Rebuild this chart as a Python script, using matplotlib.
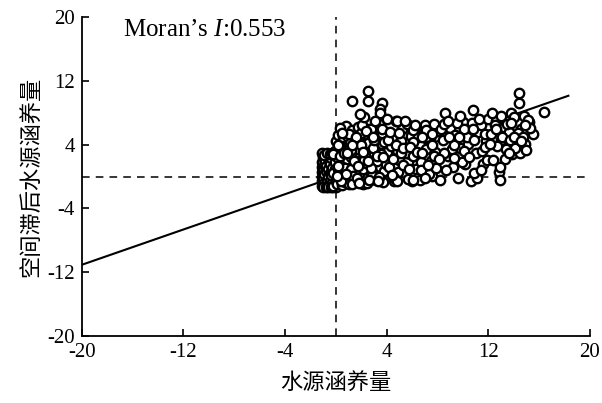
import matplotlib
matplotlib.use("Agg")
import matplotlib.pyplot as plt

plt.rcParams['mathtext.fontset'] = 'custom'
plt.rcParams['mathtext.rm'] = 'Liberation Serif'
plt.rcParams['mathtext.it'] = 'Liberation Serif:italic'
plt.rcParams['axes.unicode_minus'] = False

# values (approximate)
block_x = [-1.1, -1.1, -1.1, -1.1, -1.1, -1.1, -1.05, -1.0, -1.0, -1.0, -0.95, -0.9, -0.9, -0.85, -0.8,
           -0.8, -0.75, -0.7, -0.7, -0.65, -0.6, -0.6, -0.55, -0.5, -0.5, -0.45, -0.4, -0.4, -0.35, -0.3,
           -1.1, -0.9, -0.7, -0.5, -0.3, -1.0, -0.8, -0.6, -0.4, -0.2, -0.1, 0.0]
block_y = [-1.2, -0.6, 0.0, 0.6, 1.2, 1.8, 2.4, -1.0, -0.2, 0.9, 1.5, -0.8, 0.3, 2.0, -1.1,
           0.7, 1.3, -0.4, 2.6, 0.1, -1.2, 1.0, 1.9, -0.6, 0.5, 1.6, -0.9, 2.3, 0.2, 1.1,
           2.9, 2.7, 3.0, 2.8, 2.9, -1.3, -1.3, -1.3, -1.3, -1.3, 1.0, -1.3]

near_x = [-0.2, -0.2, -0.1, -0.1, 0.0, 0.0, 0.1, 0.1, 0.2, 0.2, 0.3, 0.3, 0.4, 0.4, 0.5, 0.5,
          0.6, 0.6, 0.7, 0.7, 0.8, 0.8, 0.9, 0.9, 1.0, 1.0, -0.25, 0.15, 0.35, 0.55, 0.75, 0.95,
          0.8, 0.3]
near_y = [-1.2, 0.4, 1.8, 3.2, -0.5, 4.5, 2.5, -1.0, 0.9, 5.2, 3.8, -0.2, 1.5, 4.0, -1.1, 2.8,
          0.6, 5.6, 3.3, -0.7, 1.9, 4.7, 0.0, 2.2, -0.9, 3.6, 2.8, 3.9, 2.6, 4.9, 1.1, 5.0,
          6.3, 6.1]

low_x = [1.1, 1.2, 1.3, 1.4, 1.5, 1.6, 1.7, 1.8, 1.9, 2.0, 2.1, 2.2, 2.3, 2.4, 2.5,
         2.6, 2.7, 2.8, 2.9, 3.0, 3.1, 3.2, 3.3, 3.4, 3.5, 3.6, 3.7, 3.8, 3.9, 4.0,
         1.15, 1.35, 1.55, 1.75, 1.95, 2.15, 2.35, 2.55, 2.75, 2.95, 3.15, 3.35, 3.55, 3.75, 3.95,
         1.25, 1.65, 2.05, 2.45, 2.85, 3.25, 3.65, 4.05,
         1.24, 2.5, 2.5, 3.6, 3.5, 3.5, 4.0, 3.1, 2.2, 1.9,
         0.2, 0.4, 0.6, 0.8, 1.0, 1.2, 1.4, 1.6, 1.8, 2.0, 2.2, 2.4, 2.6, 2.8, 3.0,
         3.2, 3.4, 3.6, 3.8, 0.1, 0.5, 0.9, 1.3, 1.7, 2.1, 2.5, 2.9, 3.3, 3.7]
low_y = [4.2, 1.0, 5.8, -0.6, 3.0, 2.0, 6.2, 0.3, 4.8, 1.4, -0.9, 5.3, 2.6, 3.7, 0.8,
         6.0, 1.9, 4.4, -0.3, 2.9, 5.1, 0.6, 3.5, 6.6, 1.2, 4.1, -0.7, 2.3, 5.6, 3.1,
         2.5, 0.1, 4.6, 3.4, 5.5, 0.9, 1.7, 4.2, 5.9, 3.6, -0.4, 4.9, 2.8, 0.7, 1.6,
         -1.0, -0.2, 6.4, -0.8, 0.2, 1.9, 5.4, 4.5,
         9.5, 10.7, 9.5, 9.2, 8.5, 7.9, 7.2, 7.0, 7.4, 7.8,
         1.3, -0.5, 3.0, 0.3, 5.3, 3.3, 1.9, 4.9, -0.8, 3.9, 2.1, 5.7, -0.4, 1.1, 4.6,
         2.6, 0.0, 5.9, 4.3, 0.1, 5.4, 3.0, 4.0, 1.3, 3.1, 2.0, 5.0, -0.6, 2.5]

mid_x = [4.2, 4.4, 4.6, 4.8, 5.0, 5.2, 5.4, 5.6, 5.8, 6.0, 6.2, 6.4, 6.6, 6.8, 7.0, 7.2, 7.4, 7.6, 7.8, 8.0,
         4.3, 4.5, 4.7, 4.9, 5.1, 5.3, 5.5, 5.7, 5.9, 6.1, 6.3, 6.5, 6.7, 6.9, 7.1, 7.3, 7.5, 7.7, 7.9,
         4.1, 4.6, 5.1, 5.6, 6.1, 6.6, 7.1, 7.6,
         4.8, 6.1, 6.7, 6.1, 7.1, 4.8,
         4.25, 4.75, 5.25, 5.75, 6.25, 6.75, 7.25, 7.75, 4.4, 5.0, 5.8, 6.4, 7.0, 7.6, 5.4, 6.8]
mid_y = [1.2, 5.0, -0.6, 3.3, 2.1, 6.0, 0.4, 4.2, 2.8, -0.5, 5.4, 1.6, 3.9, 0.8, 6.4, 2.4, 4.6, 0.1, 3.1, 5.7,
         3.8, 2.2, 6.9, 0.6, 4.4, 1.5, 3.0, -0.3, 5.1, 2.6, 0.9, 4.9, 1.8, 5.6, 3.4, 0.3, 2.0, 6.6, 1.1,
         4.6, -0.2, 2.9, 6.6, 4.3, -0.4, 5.0, 4.0,
         -0.6, -0.4, 0.8, 5.8, 5.8, 6.9,
         5.6, 4.0, 3.6, 1.0, 6.5, 5.0, 1.4, 2.6, 0.2, 5.5, 3.7, 3.1, -0.2, 5.3, 6.9, 2.9]

high_x = [8.2, 8.4, 8.6, 8.8, 9.0, 9.2, 9.4, 9.6, 9.8, 10.0, 10.2, 10.4, 10.6, 10.8, 11.0, 11.2, 11.4, 11.6, 11.8, 12.0,
          8.3, 8.7, 9.1, 9.5, 9.9, 10.3, 10.7, 11.1, 11.5, 11.9, 8.5, 9.3, 10.1, 10.9, 11.7,
          12.2, 12.4, 12.6, 12.8, 12.9, 13.0, 13.2, 13.4, 13.6, 13.8, 13.9, 14.0, 14.2, 14.4, 14.4, 14.5, 14.6,
          14.8, 14.9, 15.0, 15.2, 15.5, 16.4, 12.3, 12.7, 13.1, 13.5, 13.7, 14.1, 14.3, 14.7, 15.1, 13.3, 12.5,
          8.1, 8.5, 8.9, 9.3, 9.7, 10.1, 10.5, 10.9, 11.3, 11.7, 8.8, 9.8, 10.8, 11.4,
          12.1, 12.6, 13.0, 13.6, 14.0, 14.6, 15.3, 12.9, 13.8, 14.9, 15.0]
high_y = [-0.4, 4.6, 8.0, 2.6, 6.1, 1.2, 5.2, -0.2, 3.6, 6.8, 1.6, 4.1, -0.6, 8.3, 2.9, 5.6, 6.4, 1.6, 4.4, 7.2,
          5.9, 0.8, 3.4, 6.7, 1.8, 5.0, 6.7, -0.2, 3.2, 2.1, 3.0, 4.0, 6.0, 0.4, 5.3,
          5.3, 2.1, 7.0, 0.6, -0.4, 4.6, 6.2, 3.4, 5.6, 8.0, 2.8, 7.4, 4.0, 10.5, 9.2, 2.9, 6.0,
          7.6, 4.1, 5.8, 6.8, 5.3, 8.1, 7.9, 3.8, 5.0, 6.6, 4.6, 3.6, 5.4, 5.0, 7.1, 2.2, 6.5,
          2.2, 6.6, 5.0, 2.3, 4.9, 3.2, 2.4, 4.6, 7.2, 3.7, 7.0, 7.6, 5.9, 0.8,
          4.1, 5.9, 7.6, 3.0, 5.0, 4.5, 6.1, 1.2, 6.7, 6.5, 3.3]

moran_i = 0.553
fit_x = [-20, 18.3]
ticks = [-20, -12, -4, 4, 12, 20]

xs = block_x + near_x + low_x + mid_x + high_x
ys = block_y + near_y + low_y + mid_y + high_y

serif = ['Liberation Serif', 'DejaVu Serif']
cjk = ['Noto Sans CJK SC', 'DejaVu Sans']

fig = plt.figure(figsize=(6.02, 4.03), dpi=100)
ax = fig.add_axes([0.136, 0.166, 0.844, 0.792])

ax.axvline(0, color='black', lw=1.1, ls=(0, (5, 4)), zorder=1)
ax.axhline(0, color='black', lw=1.1, ls=(0, (5, 4)), zorder=1)
ax.plot(fit_x, [moran_i * v for v in fit_x], color='black', lw=1.5, zorder=2)
ax.scatter(xs, ys, s=46, facecolors='white', edgecolors='black', linewidths=1.7, zorder=3)

ax.set_xlim(-20, 20)
ax.set_ylim(-20, 20)
ax.set_xticks(ticks)
ax.set_yticks(ticks)
ax.spines['top'].set_visible(False)
ax.spines['right'].set_visible(False)
ax.spines['left'].set_linewidth(1.3)
ax.spines['bottom'].set_linewidth(1.3)
ax.tick_params(direction='in', length=5, width=1.2, labelsize=15, pad=5)
for lab in ax.get_xticklabels() + ax.get_yticklabels():
    lab.set_family(serif)

ax.set_xlabel('水源涵养量', family=cjk, fontsize=16, labelpad=6)
ax.set_ylabel('空间滞后水源涵养量', family=cjk, fontsize=16, labelpad=4)

ax.text(-16.8, 18.3, "Moran\u2019s $\\mathit{I}$:0.553", family=serif, fontsize=18, va='center')

fig.savefig('out.png', dpi=100)
